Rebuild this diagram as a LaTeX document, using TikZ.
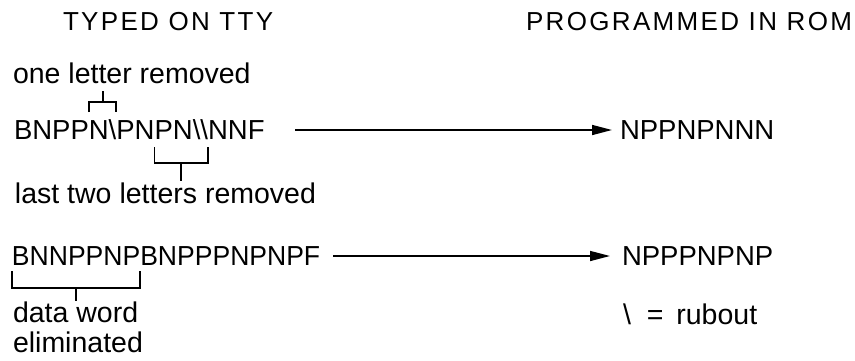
\documentclass[tikz,border=0pt]{standalone}
\usepackage{fontspec}
\usepackage{graphicx}
\setmainfont{Liberation Sans}
\newfontfamily\titlefont[LetterSpace=9]{Liberation Sans}
\usetikzlibrary{arrows.meta}
\tikzset{
  x=1pt, y=-1pt,
  txt/.style={inner sep=0pt, outer sep=0pt, anchor=base west, font=\fontsize{27.5}{30}\selectfont},
  lbl/.style={inner sep=0pt, outer sep=0pt, anchor=base west, font=\fontsize{28.5}{30}\selectfont},
  ttl/.style={inner sep=0pt, outer sep=0pt, anchor=base west, font=\titlefont\fontsize{26}{28}\selectfont},
  br/.style={line width=1.8pt},
  arr/.style={line width=1.5pt, -{Triangle[length=20pt,width=10pt]}}
}
\newcommand{\narrow}[1]{\scalebox{0.965}[1]{#1}}
\begin{document}
\begin{tikzpicture}
\useasboundingbox (0,0) rectangle (855,360);
% titles
\node[ttl] (t1) at (63,30) {TYPED ON TTY};
\node[ttl, anchor=base east] (t2) at (852,30) {PROGRAMMED IN ROM};
% row 1
\node[lbl] (l1) at (13,83) {one letter removed};
\node[txt] (r1a) at (14,139) {BNPP};
\node[txt] (r1b) at (r1a.base east) {N\textbackslash};
\node[txt] (r1c) at (r1b.base east) {PN};
\node[txt] (r1d) at (r1c.base east) {PN\textbackslash\textbackslash};
\node[txt] (r1e) at (r1d.base east) {NNF};
\node[lbl] (l2) at (15,203) {last two letters removed};
\node[txt] (o1) at (620,139) {NPPNPNNN};
% row 2
\node[txt] (r2a) at (12,265) {\narrow{BNNPPNP}};
\node[txt] (r2b) at (r2a.base east) {\narrow{BNPPPNPNPF}};
\node[txt] (o2) at (622,265) {NPPPNPNP};
\node[lbl, align=left] (l3) at (13,352) {data word\\eliminated};
\node[lbl] (key) at (623,324) {\textbackslash\hspace{8pt} = \hspace{5pt}rubout};
% bracket levels
\coordinate (b1a) at (0,112); \coordinate (b1b) at (0,102); \coordinate (b1c) at (0,91);
\coordinate (b2a) at (0,147); \coordinate (b2b) at (0,163); \coordinate (b2c) at (0,181);
\coordinate (b3a) at (0,271); \coordinate (b3b) at (0,288); \coordinate (b3c) at (0,301);
% bracket 1 (over N\)
\draw[br] (r1b.west |- b1a) -- (r1b.west |- b1b) -- (r1b.east |- b1b) -- (r1b.east |- b1a);
\draw[br] (r1b.center |- b1b) -- (r1b.center |- b1c);
% bracket 2 (under PN\\)
\draw[br] (r1d.west |- b2a) -- (r1d.west |- b2b) -- (r1d.east |- b2b) -- (r1d.east |- b2a);
\draw[br] (r1d.center |- b2b) -- (r1d.center |- b2c);
% bracket 3 (under BNNPPNP)
\draw[br] (r2a.west |- b3a) -- (r2a.west |- b3b) -- (r2a.east |- b3b) -- (r2a.east |- b3a);
\draw[br] (r2a.center |- b3b) -- (r2a.center |- b3c);
% arrows
\coordinate (a1s) at (295,130);
\coordinate (a2s) at (333,256);
\draw[arr, shorten >=8pt] (a1s) -- (a1s -| o1.west);
\draw[arr, shorten >=12pt] (a2s) -- (a2s -| o2.west);
\end{tikzpicture}
\end{document}
